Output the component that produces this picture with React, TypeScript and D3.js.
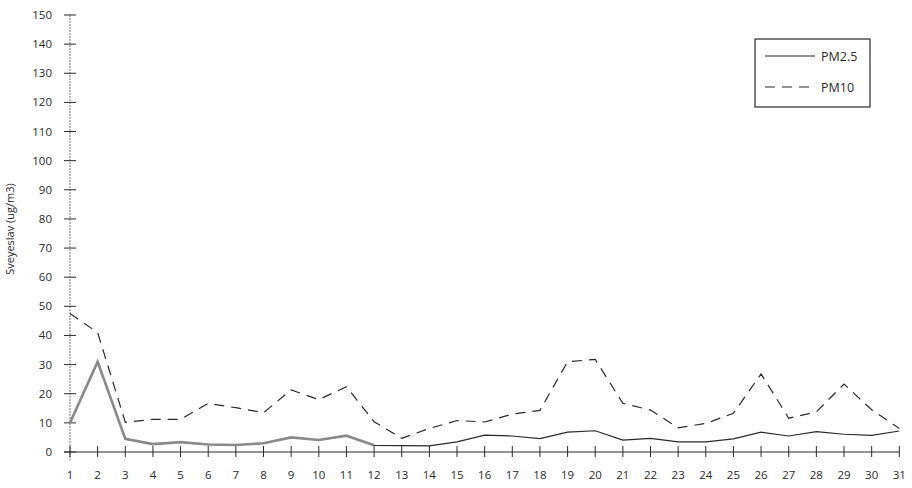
import React from "react";
import * as d3 from "d3";

const days: number[] = Array.from({ length: 31 }, (_, i) => i + 1);
const pm25: number[] = [10, 31, 4.5, 2.7, 3.4, 2.6, 2.4, 3, 5, 4.1, 5.6, 2.3, 2.2, 2.1, 3.5, 5.8, 5.5, 4.6, 6.8, 7.3, 4.1, 4.7, 3.5, 3.5, 4.5, 6.8, 5.5, 7, 6.1, 5.7, 7.2];
const pm10: number[] = [47.5, 41, 10.2, 11.2, 11.2, 16.7, 15.2, 13.5, 21.3, 18, 22.4, 10.4, 4.7, 8.1, 10.8, 10.3, 13, 14.3, 31, 31.8, 16.7, 14.4, 8.3, 9.8, 13.3, 26.8, 11.6, 13.8, 23.3, 14.5, 8.1];
const yTicks: number[] = [0, 10, 20, 30, 40, 50, 60, 70, 80, 90, 100, 110, 120, 130, 140, 150];
const seriesNames: string[] = ["PM2.5", "PM10"];
const yTitle = "Sveyeslav (ug/m3)";

export default function App() {
  const W = 912, H = 488;
  const x = d3.scaleLinear().domain([1, 31]).range([70, 899.3]);
  const y = d3.scaleLinear().domain([0, 150]).range([452, 15]);
  const line = d3.line<number>().x((_, i) => x(days[i])).y((d) => y(d));
  const font = "'Open Sans', 'DejaVu Sans', sans-serif";
  const ink = "#2a2a2a";
  const firstPart = pm25.slice(0, 12);
  return (
    <svg width={W} height={H} style={{ position: "absolute", left: 0, top: 0, background: "#fff" }}>
      <rect x={0} y={0} width={W} height={H} fill="#fff" />
      {/* y axis */}
      <line x1={x(1)} x2={x(1)} y1={y(150)} y2={460} stroke="#777" strokeWidth={1} strokeDasharray="2,1" />
      {yTicks.map((t) => (
        <g key={"y" + t}>
          <line x1={64} x2={76} y1={y(t)} y2={y(t)} stroke={ink} strokeWidth={1} />
          <text x={52} y={y(t) + 4} textAnchor="end" fontFamily={font} fontSize={11.5} fill={ink}>{t}</text>
        </g>
      ))}
      {/* x axis */}
      <line x1={x(1) - 6} x2={x(31)} y1={y(0)} y2={y(0)} stroke={ink} strokeWidth={1.2} />
      {days.map((d) => (
        <g key={"x" + d}>
          <line x1={x(d)} x2={x(d)} y1={y(0) - 6} y2={y(0) + 5} stroke={ink} strokeWidth={1} />
          <text x={x(d)} y={479} textAnchor="middle" fontFamily={font} fontSize={11.5} fill={ink}>{d}</text>
        </g>
      ))}
      <text transform={`translate(14,229) rotate(-90)`} textAnchor="middle" fontFamily={font} fontSize={11} fill={ink}>{yTitle}</text>
      {/* series */}
      <path d={line(pm10) || ""} fill="none" stroke={ink} strokeWidth={1.2} strokeDasharray="10,7" />
      <path d={line(pm25) || ""} fill="none" stroke={ink} strokeWidth={1.2} />
      <path d={line(firstPart) || ""} fill="none" stroke="#8a8a8a" strokeWidth={2.6} />
      {/* legend */}
      <rect x={755} y={39} width={115} height={68} fill="#fff" stroke={ink} strokeWidth={1.2} />
      <line x1={765} x2={815} y1={56} y2={56} stroke={ink} strokeWidth={1.2} />
      <text x={821} y={60.5} fontFamily={font} fontSize={12.5} fill={ink}>{seriesNames[0]}</text>
      <line x1={765} x2={815} y1={87} y2={87} stroke={ink} strokeWidth={1.2} strokeDasharray="10,7" />
      <text x={821} y={91.5} fontFamily={font} fontSize={12.5} fill={ink}>{seriesNames[1]}</text>
    </svg>
  );
}
